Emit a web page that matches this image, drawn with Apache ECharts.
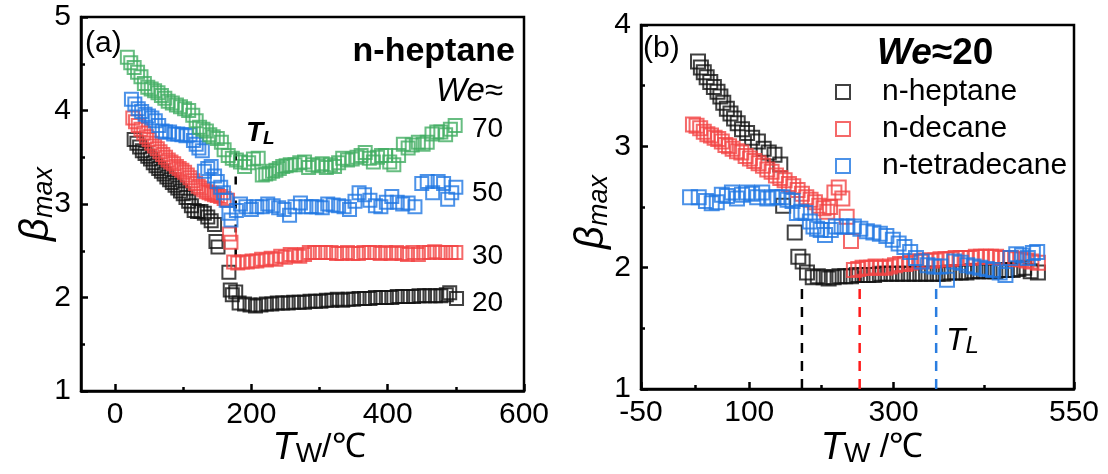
<!DOCTYPE html>
<html>
<head>
<meta charset="utf-8">
<script src="https://cdn.jsdelivr.net/npm/echarts@6/dist/echarts.min.js"></script>
<style>
html, body { margin: 0; padding: 0; background: #fff; }
#chart { width: 1108px; height: 474px; }
</style>
</head>
<body>
<div id="chart"></div>
<script>
// ---- (a) n-heptane at four Weber numbers: [T_W (°C), beta_max] ----
const heptaneWe20 = [
  [28,3.69],[32,3.65],[36,3.61],[40,3.57],[44,3.54],[48,3.51],[52,3.48],[56,3.44],[60,3.41],[64,3.38],
  [68,3.35],[72,3.32],[76,3.29],[80,3.26],[84,3.23],[88,3.20],[92,3.17],[96,3.14],[100,3.11],[104,3.07],
  [108,3.03],[112,2.98],[116,2.93],[121,2.92],[126,2.92],[131,2.90],[136,2.86],[141,2.82],[146,2.78],[148,2.60],
  [151,2.54],[167,2.27],[169,2.08],[172,2.03],[177,2.06],[182,1.94],
  [190,1.93],[198,1.92],[206,1.91],[214,1.92],[222,1.93],[230,1.93],[238,1.94],[246,1.94],[254,1.94],[262,1.95],
  [270,1.95],[278,1.95],[286,1.96],[294,1.96],[302,1.96],[310,1.97],[318,1.97],[326,1.98],[334,1.97],[342,1.98],
  [350,1.98],[358,1.99],[366,1.99],[374,1.99],[382,2.00],[390,2.00],[398,2.00],[406,2.00],[414,2.01],[422,2.01],
  [430,2.01],[438,2.01],[446,2.02],[454,2.02],[462,2.02],[470,2.02],[478,2.02],[486,2.03],[491,2.05],[501,1.99]
];
const heptaneWe30 = [
  [26,3.92],[30,3.88],[34,3.84],[38,3.80],[42,3.76],[46,3.72],[50,3.69],[54,3.65],[58,3.62],[62,3.59],
  [66,3.56],[70,3.53],[74,3.50],[78,3.47],[82,3.45],[86,3.43],[90,3.40],[94,3.38],[98,3.36],[102,3.34],
  [106,3.31],[110,3.28],[114,3.25],[118,3.22],[122,3.19],[126,3.17],[130,3.15],[134,3.13],[138,3.12],[142,3.11],
  [146,3.10],[150,3.09],[155,3.08],[160,3.06],[165,3.04],[168,2.68],[170,2.59],[174,2.38],
  [180,2.37],[187,2.38],[194,2.38],[201,2.39],[208,2.39],[215,2.41],[222,2.40],[229,2.42],[236,2.41],[243,2.44],
  [250,2.43],[257,2.46],[264,2.45],[271,2.44],[278,2.46],[285,2.48],[293,2.48],[301,2.48],[309,2.48],[317,2.48],
  [325,2.47],[333,2.47],[341,2.48],[349,2.47],[357,2.47],[365,2.48],[373,2.48],[381,2.48],[389,2.47],[397,2.48],
  [405,2.47],[413,2.48],[421,2.47],[429,2.46],[437,2.48],[445,2.46],[453,2.48],[461,2.48],[469,2.49],[477,2.48],
  [485,2.48],[493,2.48],[500,2.48]
];
const heptaneWe50 = [
  [24,4.12],[29,4.07],[34,4.02],[39,3.99],[44,3.96],[49,3.94],[54,3.92],[59,3.89],[64,3.84],[69,3.78],
  [74,3.77],[80,3.77],[86,3.75],[92,3.75],[98,3.74],[104,3.73],[110,3.74],[115,3.68],[119,3.64],[123,3.60],
  [128,3.57],[131,3.35],[136,3.38],[141,3.40],[146,3.30],[150,3.24],[155,3.18],[159,3.12],[163,3.04],[167,2.90],
  [170,2.83],
  [178,2.93],[184,3.00],[192,2.97],[200,2.94],[208,2.97],[216,2.97],[224,3.00],[232,2.98],[240,2.96],[248,2.94],
  [256,2.88],[264,2.97],[272,3.01],[280,2.97],[288,2.97],[296,2.97],[304,2.96],[312,3.00],[320,2.99],[328,2.98],
  [336,2.97],[344,2.94],[352,3.03],[358,3.12],[366,3.10],[374,3.04],[382,2.98],[390,2.97],[398,3.02],[406,3.08],
  [414,3.02],[422,3.00],[430,3.01],[440,2.97],[450,3.22],[458,3.24],[466,3.12],[474,3.24],[482,3.22],[488,3.05],
  [494,3.12],[500,3.18]
];
const heptaneWe70 = [
  [18,4.57],[23,4.51],[28,4.46],[33,4.41],[38,4.36],[43,4.29],[48,4.25],[53,4.23],[58,4.21],[63,4.19],
  [68,4.16],[73,4.13],[78,4.10],[84,4.08],[90,4.06],[96,4.04],[102,4.02],[108,4.00],[114,3.95],[119,3.89],
  [124,3.82],[129,3.80],[134,3.78],[139,3.74],[144,3.72],[150,3.70],[156,3.66],[160,3.58],[166,3.52],[172,3.49],
  [178,3.47],[184,3.45],[190,3.40],[196,3.44],[203,3.48],[210,3.49],[216,3.31],[221,3.32],[226,3.33],[231,3.35],
  [236,3.36],[241,3.38],[246,3.40],[251,3.41],[257,3.42],[264,3.42],[271,3.44],[278,3.45],[284,3.39],[290,3.42],
  [298,3.41],[304,3.43],[310,3.39],[316,3.42],[322,3.40],[328,3.44],[334,3.49],[341,3.47],[348,3.48],[355,3.50],
  [361,3.52],[367,3.55],[373,3.49],[379,3.45],[385,3.50],[391,3.52],[397,3.52],[403,3.45],[409,3.42],[416,3.52],
  [423,3.64],[430,3.60],[436,3.63],[445,3.66],[452,3.64],[458,3.66],[465,3.75],[472,3.77],[478,3.77],[485,3.74],
  [492,3.80],[499,3.84]
];
const weLabelsA = ['70', '50', '30', '20'];
// Leidenfrost transition marked in (a): [T_L, beta from, beta to]
const tlA = [177, 3.55, 2.30];

// ---- (b) three alkanes at We ≈ 20 ----
const heptaneB = [
  [29,3.70],[33,3.65],[37,3.61],[41,3.57],[46,3.53],[51,3.49],[56,3.45],[60,3.41],[64,3.36],[69,3.31],
  [74,3.27],[79,3.23],[84,3.19],[90,3.14],[97,3.11],[104,3.07],[112,3.04],[120,2.98],[127,2.95],[135,2.93],
  [143,2.85],[147,2.51],[163,2.29],[168,2.09],[174,2.05],[180,1.96],
  [188,1.92],[195,1.93],[203,1.92],[210,1.91],[217,1.92],[225,1.93],[233,1.93],[241,1.93],[249,1.94],[257,1.94],
  [265,1.94],[273,1.94],[281,1.95],[289,1.95],[297,1.95],[305,1.95],[313,1.95],[321,1.95],[329,1.95],[337,1.95],
  [345,1.95],[353,1.95],[361,1.95],[369,1.95],[377,1.96],[385,1.96],[393,1.96],[401,1.96],[409,1.97],[417,1.97],
  [425,1.97],[433,1.97],[441,1.97],[449,1.98],[457,1.98],[465,1.98],[473,1.99],[481,2.00],[490,1.97],[500,1.96]
];
const decaneB = [
  [22,3.18],[27,3.17],[32,3.15],[37,3.12],[42,3.10],[47,3.09],[52,3.07],[57,3.06],[62,3.04],[67,3.01],
  [72,3.00],[77,2.98],[83,2.96],[89,2.95],[95,2.92],[101,2.90],[107,2.88],[113,2.86],[119,2.84],[125,2.81],
  [131,2.79],[137,2.76],[143,2.74],[149,2.72],[155,2.69],[161,2.67],[167,2.64],[173,2.61],[179,2.58],[185,2.56],
  [191,2.54],[197,2.51],[203,2.49],[208,2.46],[212,2.50],[218,2.62],[224,2.66],[229,2.57],[235,2.42],[241,2.22],
  [245,1.98],[251,1.99],[257,2.00],[263,2.00],[269,2.00],[275,2.01],[281,2.00],[288,2.00],[295,2.01],[302,2.02],
  [309,2.03],[316,2.03],[323,2.04],[330,2.05],[337,2.05],[344,2.06],[351,2.06],[358,2.06],[365,2.07],[372,2.07],
  [379,2.07],[386,2.08],[393,2.08],[400,2.08],[407,2.08],[414,2.09],[421,2.09],[428,2.09],[435,2.09],[442,2.09],
  [449,2.08],[456,2.08],[463,2.08],[470,2.07],[477,2.07],[484,2.06],[491,2.05],[500,2.04]
];
const tetradecaneB = [
  [18,2.58],[30,2.58],[40,2.55],[48,2.53],[55,2.54],[62,2.60],[69,2.59],[76,2.62],[83,2.57],[90,2.60],
  [97,2.62],[104,2.61],[111,2.58],[118,2.62],[125,2.57],[132,2.58],[139,2.58],[146,2.58],[153,2.56],[160,2.55],
  [166,2.45],[172,2.46],[178,2.45],[184,2.38],[189,2.34],[194,2.32],[199,2.31],
  [205,2.27],[213,2.31],[220,2.34],[228,2.34],[236,2.34],[245,2.34],[254,2.32],[263,2.30],[272,2.29],[281,2.28],
  [290,2.26],[299,2.23],[307,2.20],[315,2.17],[323,2.13],[331,2.08],[339,2.05],[347,2.02],[356,2.01],[365,2.01],
  [374,1.90],[384,2.05],[393,2.04],[402,2.02],[411,2.01],[420,2.00],[429,1.99],[438,1.98],[447,1.96],[455,1.94],
  [462,2.08],[470,2.11],[478,2.10],[486,2.08],[493,2.12],[499,2.13]
];
const fluidNames = ['n-heptane', 'n-decane', 'n-tetradecane'];
// Leidenfrost temperatures in (b) and the beta where each marker line stops
const tlB = [173, 253, 359];
const tlTopB = [1.86, 1.98, 1.88];

// ---- axis ticks ----
const xLabelsA = [0, 200, 400, 600];
const xMinorA = [100, 300, 500];
const xLabelsB = [-50, 100, 300, 550];
const xMinorB = [25, 200, 425];

const FONT = '"Liberation Sans", Arial, Helvetica, sans-serif';
const COL = { black: '#111111', red: '#f24343', blue: '#1f77e2', green: '#41ad62' };

function squares(name, data, color, axis, size) {
  return {
    type: 'scatter', name, data,
    xAxisIndex: axis.x, yAxisIndex: axis.y,
    symbol: 'rect', symbolSize: size,
    itemStyle: { color: 'rgba(255,255,255,0)', borderColor: color, borderWidth: 2 },
    emphasis: { disabled: true }, silent: true, z: 3
  };
}
function dashed(data, color, axis, pattern) {
  return {
    type: 'line', data, xAxisIndex: axis.x, yAxisIndex: axis.y,
    symbol: 'none', lineStyle: { color, width: 2.5, type: pattern },
    emphasis: { disabled: true }, silent: true, z: 2
  };
}

const lineStyle = { color: '#000', width: 2.5 };
const axisLine = { show: true, onZero: false, lineStyle };
const labelStyle = { color: '#000', fontFamily: FONT, fontSize: 30, margin: 9 };

function xMain(grid, min, max, labels, ticks) {
  return {
    gridIndex: grid, type: 'value', min, max, position: 'bottom',
    axisLine,
    axisTick: { show: true, inside: true, length: 7, lineStyle, customValues: ticks },
    axisLabel: Object.assign({}, labelStyle, { customValues: labels }),
    splitLine: { show: false }
  };
}
function xMinor(grid, min, max, ticks) {
  return {
    gridIndex: grid, type: 'value', min, max, position: 'bottom', offset: 0,
    axisLine: { show: false },
    axisTick: { show: true, inside: true, length: 4, lineStyle, customValues: ticks },
    axisLabel: { show: false },
    splitLine: { show: false }
  };
}
function yMain(grid, min, max) {
  return {
    gridIndex: grid, type: 'value', min, max, interval: 1,
    axisLine,
    axisTick: { show: true, inside: true, length: 7, lineStyle },
    minorTick: { show: true, splitNumber: 2, length: 4, lineStyle },
    axisLabel: Object.assign({}, labelStyle, { margin: 10 }),
    splitLine: { show: false }, minorSplitLine: { show: false }
  };
}

const AXA = { x: 0, y: 0 };
const AXB = { x: 2, y: 1 };

const series = [
  squares('We≈20', heptaneWe20, COL.black, AXA, 13),
  squares('We≈30', heptaneWe30, COL.red, AXA, 13),
  squares('We≈50', heptaneWe50, COL.blue, AXA, 13),
  squares('We≈70', heptaneWe70, COL.green, AXA, 13),
  dashed([[tlA[0], tlA[1]], [tlA[0], tlA[2]]], '#000', AXA, [8, 16]),
  squares(fluidNames[0], heptaneB, COL.black, AXB, 14),
  squares(fluidNames[1], decaneB, COL.red, AXB, 14),
  squares(fluidNames[2], tetradecaneB, COL.blue, AXB, 14),
  dashed([[tlB[0], 1], [tlB[0], tlTopB[0]]], '#000', AXB, [10, 8]),
  dashed([[tlB[1], 1], [tlB[1], tlTopB[1]]], '#ff1a1a', AXB, [10, 8]),
  dashed([[tlB[2], 1], [tlB[2], tlTopB[2]]], '#2a7de0', AXB, [10, 8])
];

function txt(x, y, text, rich, extra) {
  return {
    type: 'text', x, y, silent: true, z: 10,
    style: Object.assign({ text, rich, fill: '#000', font: '28px ' + FONT, align: 'left', verticalAlign: 'middle' }, extra || {})
  };
}
const R = (size, opts) => Object.assign({ fontFamily: FONT, fontSize: size, fill: '#000', color: '#000' }, opts || {});

const graphic = [
  // panel (a)
  txt(85, 44, '(a)', null, { font: '30px ' + FONT }),
  txt(515, 52, 'n-heptane', null, { font: 'bold 34px ' + FONT, align: 'right' }),
  txt(503, 92, '{i|We}{n|≈}', { i: R(33, { fontStyle: 'italic' }), n: R(33) }, { align: 'right' }),
  txt(472, 129, weLabelsA[0], null),
  txt(472, 193, weLabelsA[1], null),
  txt(472, 256, weLabelsA[2], null),
  txt(472, 303, weLabelsA[3], null),
  txt(246, 133, '{t|T}{s|L}', {
    t: R(28, { fontStyle: 'italic', fontWeight: 'bold', lineHeight: 30, verticalAlign: 'middle' }),
    s: R(19, { fontStyle: 'italic', fontWeight: 'bold', lineHeight: 16, verticalAlign: 'bottom' })
  }),
  txt(319, 448, '{t|T}{s|W}{n|/℃}', {
    t: R(38, { fontStyle: 'italic', lineHeight: 40, verticalAlign: 'middle' }),
    s: R(28, { lineHeight: 26, verticalAlign: 'bottom' }),
    n: R(34, { lineHeight: 40, verticalAlign: 'middle' })
  }, { align: 'center' }),
  Object.assign(txt(37, 204, '{b|β}{s|max}', {
    b: R(40, { fontStyle: 'italic', lineHeight: 42, verticalAlign: 'middle' }),
    s: R(27, { fontStyle: 'italic', lineHeight: 26, verticalAlign: 'bottom' })
  }, { align: 'center' }), { rotation: Math.PI / 2 }),
  // panel (b)
  txt(643, 49, '(b)', null, { font: '30px ' + FONT }),
  txt(877, 54, '{i|We}{n|≈20}', {
    i: R(37, { fontStyle: 'italic', fontWeight: 'bold' }),
    n: R(37, { fontWeight: 'bold' })
  }),
  txt(946, 341, '{t|T}{s|L}', {
    t: R(32, { fontStyle: 'italic', lineHeight: 34, verticalAlign: 'middle' }),
    s: R(24, { fontStyle: 'italic', lineHeight: 20, verticalAlign: 'bottom' })
  }),
  txt(872, 448, '{t|T}{s|W}{n| /℃}', {
    t: R(38, { fontStyle: 'italic', lineHeight: 40, verticalAlign: 'middle' }),
    s: R(28, { lineHeight: 26, verticalAlign: 'bottom' }),
    n: R(34, { lineHeight: 40, verticalAlign: 'middle' })
  }, { align: 'center' }),
  Object.assign(txt(592, 212, '{b|β}{s|max}', {
    b: R(40, { fontStyle: 'italic', lineHeight: 42, verticalAlign: 'middle' }),
    s: R(27, { fontStyle: 'italic', lineHeight: 26, verticalAlign: 'bottom' })
  }, { align: 'center' }), { rotation: Math.PI / 2 })
];

const chart = echarts.init(document.getElementById('chart'), null, { renderer: 'canvas' });
chart.setOption({
  animation: false,
  backgroundColor: '#fff',
  grid: [
    { left: 81, top: 17, width: 443, height: 374, show: true, borderColor: '#000', borderWidth: 2.5, backgroundColor: 'transparent' },
    { left: 641, top: 25, width: 433, height: 364, show: true, borderColor: '#000', borderWidth: 2.5, backgroundColor: 'transparent' }
  ],
  xAxis: [
    xMain(0, -50, 600, xLabelsA, xLabelsA),
    xMinor(0, -50, 600, xMinorA),
    xMain(1, -50, 550, xLabelsB, xLabelsB),
    xMinor(1, -50, 550, xMinorB)
  ],
  yAxis: [yMain(0, 1, 5), yMain(1, 1, 4)],
  legend: {
    orient: 'vertical', left: 830, top: 72,
    itemWidth: 14, itemHeight: 14, itemGap: 7, icon: 'rect',
    selectedMode: false,
    textStyle: { fontFamily: FONT, fontSize: 30, color: '#000', lineHeight: 30, padding: [0, 0, 0, 27] },
    data: fluidNames.map((n, i) => ({
      name: n,
      itemStyle: { color: 'rgba(255,255,255,0)', borderColor: [COL.black, COL.red, COL.blue][i], borderWidth: 2 }
    }))
  },
  series,
  graphic
});
</script>
</body>
</html>
